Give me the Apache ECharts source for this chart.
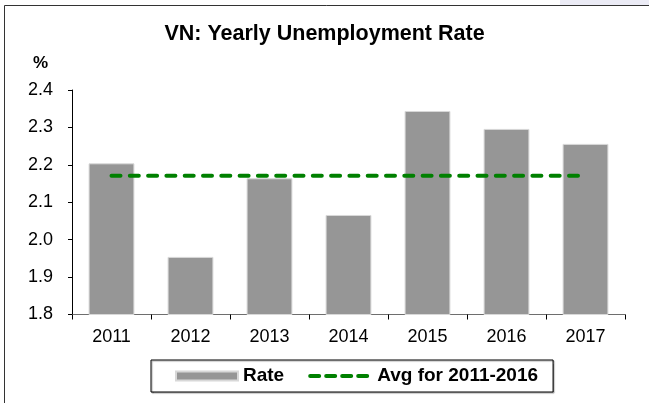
<!DOCTYPE html>
<html>
<head>
<meta charset="utf-8">
<script src="https://cdn.jsdelivr.net/npm/echarts@6/dist/echarts.min.js"></script>
<style>
html,body{margin:0;padding:0;background:#fff;}
#c{width:649px;height:403px;}
</style>
</head>
<body>
<div id="c"></div>
<script>
const categories = ['2011', '2012', '2013', '2014', '2015', '2016', '2017'];
const rateValues = [2.204, 1.954, 2.164, 2.066, 2.344, 2.296, 2.256];
const avgValue = 2.171;
const avgValues = [avgValue, avgValue, avgValue, avgValue, avgValue, avgValue, avgValue];
const yTicks = { min: 1.8, max: 2.4, interval: 0.1 };

const FONT = 'Arial, "Liberation Sans", sans-serif';
const chart = echarts.init(document.getElementById('c'), null, { renderer: 'canvas' });
chart.setOption({
  animation: false,
  backgroundColor: '#fff',
  title: {
    text: 'VN: Yearly Unemployment Rate',
    left: 'center',
    top: 18,
    textStyle: { fontFamily: FONT, fontSize: 21.5, fontWeight: 'bold', color: '#000' }
  },
  graphic: [
    { type: 'rect', shape: { x: 560, y: 0, width: 89, height: 5 }, style: { fill: '#ebebf5' }, silent: true },
    { type: 'polyline', shape: { points: [[4.5, 403], [4.5, 5.5], [649, 5.5]] }, style: { stroke: '#333', lineWidth: 1, fill: null }, silent: true },
    { type: 'text', left: 33, top: 55, style: { text: '%', font: 'bold 17px ' + FONT, fill: '#000' } }
  ],
  grid: { left: 72, right: 24, top: 90, bottom: 88.5, containLabel: false },
  legend: {
    left: 151,
    top: 360,
    padding: [6, 15, 6, 24],
    itemGap: 24,
    itemWidth: 62,
    itemHeight: 9,
    borderColor: '#000',
    borderWidth: 1,
    backgroundColor: '#fff',
    shadowColor: 'rgba(0,0,0,0.35)',
    shadowOffsetX: 1,
    shadowOffsetY: 1,
    shadowBlur: 1,
    textStyle: { fontFamily: FONT, fontSize: 19, fontWeight: 'bold', color: '#000', lineHeight: 20 },
    data: [
      { name: 'Rate', icon: 'rect' },
      { name: 'Avg for 2011-2016', itemStyle: { opacity: 0 }, lineStyle: { width: 4, type: [9, 7], cap: 'round' } }
    ]
  },
  xAxis: {
    type: 'category',
    data: categories,
    axisLine: { lineStyle: { color: '#6e6e6e', width: 1 } },
    axisTick: { show: true, length: 5, lineStyle: { color: '#000' } },
    axisLabel: { fontFamily: FONT, fontSize: 18, color: '#000', margin: 14 },
    splitLine: { show: false }
  },
  yAxis: {
    type: 'value',
    min: yTicks.min,
    max: yTicks.max,
    interval: yTicks.interval,
    axisLine: { show: true, lineStyle: { color: '#000', width: 1 } },
    axisTick: { show: true, length: 4, lineStyle: { color: '#000' } },
    axisLabel: { fontFamily: FONT, fontSize: 18, color: '#000', margin: 19, formatter: v => v.toFixed(1) },
    splitLine: { show: false }
  },
  series: [
    {
      name: 'Rate',
      type: 'bar',
      data: rateValues,
      barWidth: '58%',
      itemStyle: { color: '#969696', borderColor: '#d8d8d8', borderWidth: 1 },
      z: 2
    },
    {
      name: 'Avg for 2011-2016',
      type: 'line',
      data: avgValues,
      symbol: 'none',
      itemStyle: { color: '#008000' },
      lineStyle: { color: '#008000', width: 4, type: [9, 9.3], cap: 'round' },
      z: 3
    }
  ]
});
</script>
</body>
</html>
